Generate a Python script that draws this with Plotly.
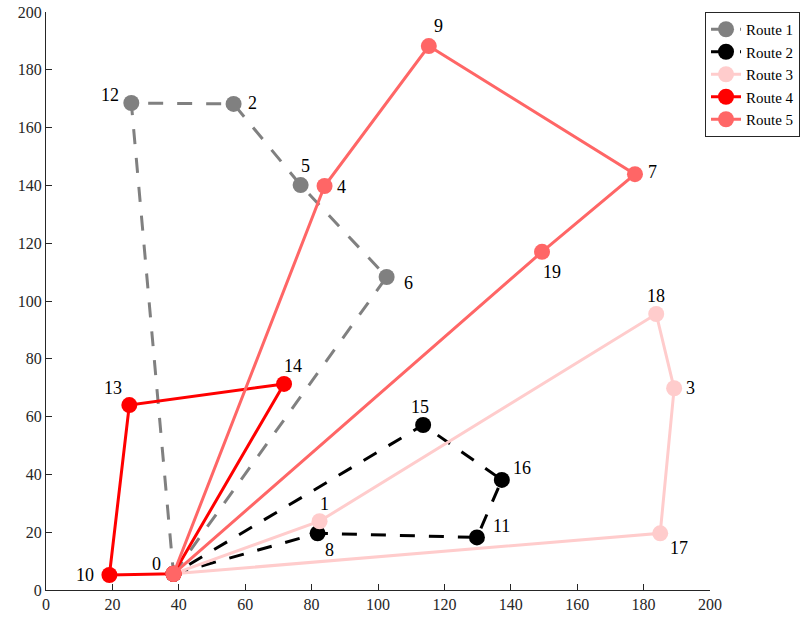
import plotly.graph_objects as go

# Node coordinates (node id -> x, y)
node_ids = [0, 1, 2, 3, 4, 5, 6, 7, 8, 9, 10, 11, 12, 13, 14, 15, 16, 17, 18, 19]
node_x = [38.4, 82.4, 56.5, 189.2, 83.9, 76.7, 102.6, 177.4, 81.8, 115.3,
          19.1, 129.8, 25.7, 25.1, 71.7, 113.6, 137.3, 185.0, 183.8, 149.4]
node_y = [5.6, 23.8, 168.2, 69.8, 139.8, 140.1, 108.3, 143.9, 19.6, 188.2,
          5.2, 18.2, 168.5, 64.0, 71.3, 57.1, 38.1, 19.6, 95.5, 117.0]

route_names = ["Route 1", "Route 2", "Route 3", "Route 4", "Route 5"]
route_nodes = [
    [0, 6, 5, 2, 12, 0],
    [0, 8, 11, 16, 15, 0],
    [0, 1, 18, 3, 17, 0],
    [0, 14, 13, 10, 0],
    [0, 4, 9, 7, 19, 0],
]
route_colors = ["#808080", "#000000", "#ffcccc", "#ff0000", "#ff6666"]
route_dash = ["15px,14px", "15px,14px", "solid", "solid", "solid"]

# label offsets in pixels (xshift, yshift) per node
label_shift = {
    0: (-17, 10), 1: (5, 17), 2: (19, 1), 3: (16, 0), 4: (17, -1),
    5: (5, 19), 6: (22, -6), 7: (18, 2), 8: (12, -17), 9: (10, 20),
    10: (-24, 0), 11: (25, 11), 12: (-21, 8), 13: (-16, 17), 14: (9, 18),
    15: (-3, 18), 16: (20, 12), 17: (19, -15), 18: (0, 18), 19: (10, -20),
}

FONT = "Liberation Serif"

fig = go.Figure()
for name, nodes, color, dash in zip(route_names, route_nodes, route_colors, route_dash):
    fig.add_trace(go.Scatter(
        x=[node_x[n] for n in nodes],
        y=[node_y[n] for n in nodes],
        mode="lines+markers",
        name=name,
        line=dict(color=color, width=3, dash=dash),
        marker=dict(color=color, size=16, line=dict(width=0)),
        hoverinfo="skip",
    ))

for n in node_ids:
    dx, dy = label_shift[n]
    fig.add_annotation(
        x=node_x[n], y=node_y[n], text=str(n), showarrow=False,
        xshift=dx, yshift=dy,
        font=dict(family=FONT, size=18, color="#000000"),
    )

fig.update_layout(
    width=800, height=621,
    margin=dict(l=46, r=90, t=12, b=31, autoexpand=False),
    paper_bgcolor="white", plot_bgcolor="white",
    font=dict(family=FONT, size=16, color="#262626"),
    showlegend=True,
    legend=dict(
        x=0.9925, y=1, xanchor="left", yanchor="top",
        bordercolor="#262626", borderwidth=1, bgcolor="white",
        font=dict(family=FONT, size=15, color="#000000"),
        itemwidth=30, tracegroupgap=0,
    ),
)
fig.update_xaxes(
    range=[0, 200], tickvals=list(range(0, 201, 20)), automargin=False,
    showgrid=False, zeroline=False, showline=True, linecolor="#262626", linewidth=1,
    ticks="inside", ticklen=6, tickcolor="#262626",
    tickfont=dict(family=FONT, size=16, color="#262626"),
)
fig.update_yaxes(
    range=[0, 200], tickvals=list(range(0, 201, 20)), automargin=False,
    showgrid=False, zeroline=False, showline=True, linecolor="#262626", linewidth=1,
    ticks="inside", ticklen=6, tickcolor="#262626",
    tickfont=dict(family=FONT, size=16, color="#262626"),
)

fig.write_html(
    "out.html",
    config={"displayModeBar": False, "staticPlot": True},
    post_script="document.body.style.margin='0';document.body.style.overflow='hidden';",
)
